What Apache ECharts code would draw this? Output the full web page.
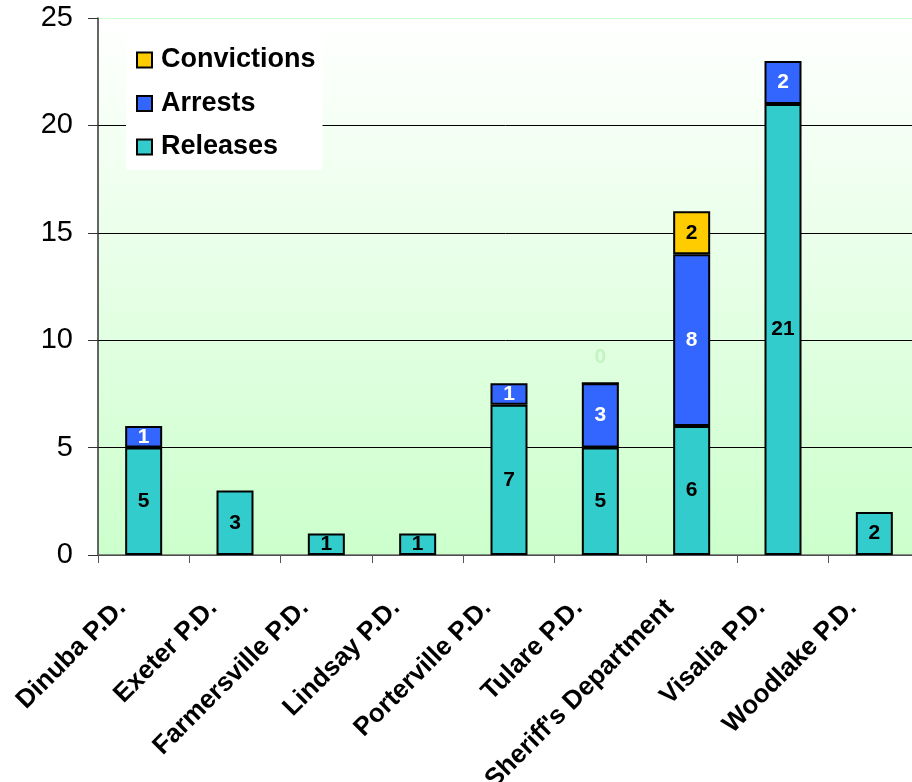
<!DOCTYPE html>
<html>
<head>
<meta charset="utf-8">
<script src="https://cdn.jsdelivr.net/npm/echarts@6/dist/echarts.min.js"></script>
<style>
html,body{margin:0;padding:0;background:#fff;}
#chart{width:912px;height:782px;}
</style>
</head>
<body>
<div id="chart"></div>
<script>
var categories = ['Dinuba P.D.', 'Exeter P.D.', 'Farmersville P.D.', 'Lindsay P.D.', 'Porterville P.D.', 'Tulare P.D.', "Sheriff's Department", 'Visalia P.D.', 'Woodlake P.D.'];
var releases = [5, 3, 1, 1, 7, 5, 6, 21, 2];
var arrests = [1, null, null, null, 1, 3, 8, 2, null];
var convictions = [null, null, null, null, null, 0, 2, null, null];
var yTicks = [0, 5, 10, 15, 20, 25];

var FONT = 'Liberation Sans, Arial, sans-serif';
var chart = echarts.init(document.getElementById('chart'));

function labelCfg(color) {
  return { show: true, position: 'inside', color: color, fontFamily: FONT, fontWeight: 'bold', fontSize: 21 };
}

var convData = convictions.map(function (v) {
  if (v === 0) {
    return { value: v, label: { show: true, position: 'top', distance: 14, color: '#c4f4c4' } };
  }
  return v;
});

chart.setOption({
  animation: false,
  backgroundColor: '#ffffff',
  textStyle: { fontFamily: FONT },
  grid: {
    left: 98, top: 18, width: 822, bottom: 227,
    containLabel: false, outerBoundsMode: 'none',
    show: true, borderWidth: 0,
    backgroundColor: new echarts.graphic.LinearGradient(0, 0, 0, 1, [
      { offset: 0, color: '#ffffff' },
      { offset: 1, color: '#ccffcc' }
    ])
  },
  legend: {
    data: ['Convictions', 'Arrests', 'Releases'],
    orient: 'vertical',
    left: 126, top: 37,
    backgroundColor: '#ffffff',
    padding: [8, 7, 8, 10],
    itemWidth: 15, itemHeight: 15, itemGap: 13.5,
    icon: 'rect',
    textStyle: { fontFamily: FONT, fontWeight: 'bold', fontSize: 27, color: '#000', lineHeight: 30, padding: [0, 0, 0, 4] }
  },
  xAxis: {
    type: 'category',
    data: categories,
    axisLine: { lineStyle: { color: '#666', width: 1.5 } },
    axisTick: { show: true, alignWithLabel: false, length: 8, lineStyle: { color: '#555' } },
    axisLabel: {
      rotate: 45, interval: 0, margin: 27,
      padding: [0, 31, 0, 0],
      fontFamily: FONT, fontWeight: 'bold', fontSize: 26, color: '#000'
    }
  },
  yAxis: {
    type: 'value',
    min: yTicks[0], max: yTicks[yTicks.length - 1], interval: 5,
    axisLine: { show: true, lineStyle: { color: '#333', width: 1.5 } },
    axisTick: { show: true, inside: false, length: 10, lineStyle: { color: '#333' } },
    axisLabel: { margin: 25, fontFamily: FONT, fontSize: 29, color: '#000' },
    splitLine: { show: true, lineStyle: { color: ['#000', '#000', '#000', '#000', '#000', '#ccffcc'], width: 1 } }
  },
  series: [
    {
      name: 'Releases', type: 'bar', stack: 'total', data: releases, barWidth: 37,
      itemStyle: { color: '#33cccc', borderColor: '#000', borderWidth: 2 },
      label: labelCfg('#000')
    },
    {
      name: 'Arrests', type: 'bar', stack: 'total', data: arrests, barWidth: 37,
      itemStyle: { color: '#3366ff', borderColor: '#000', borderWidth: 2 },
      label: labelCfg('#fff')
    },
    {
      name: 'Convictions', type: 'bar', stack: 'total', data: convData, barWidth: 37,
      itemStyle: { color: '#ffcc00', borderColor: '#000', borderWidth: 2 },
      label: labelCfg('#000')
    }
  ]
});
</script>
</body>
</html>
